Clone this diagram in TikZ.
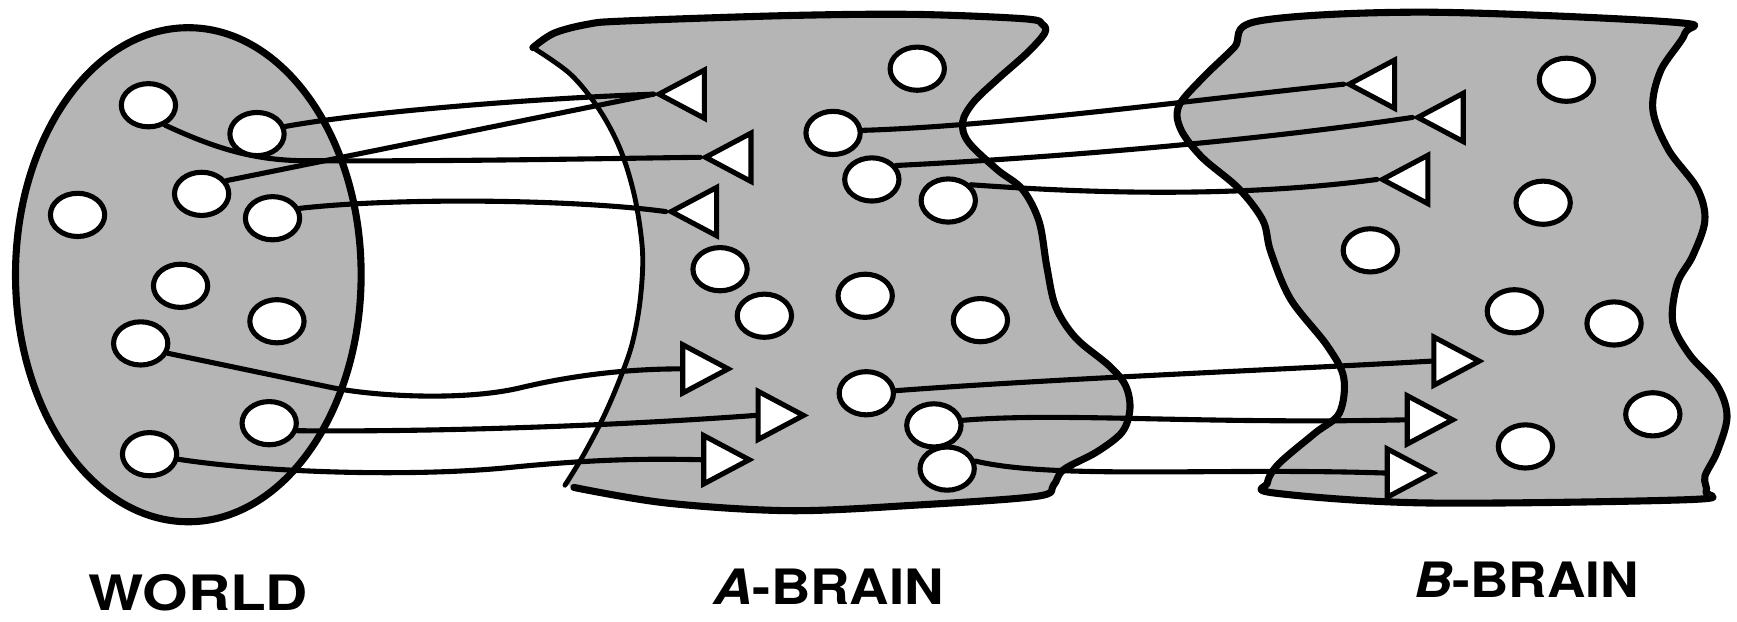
\documentclass[tikz,border=0pt]{standalone}
\usepackage{fontspec}
\usepackage{graphicx}
\setmainfont{TeX Gyre Heros}
\usetikzlibrary{shapes.geometric}
\definecolor{shadegray}{gray}{0.71}
\pgfdeclarelayer{regions}
\pgfdeclarelayer{wires}
\pgfsetlayers{regions,wires,main}
\tikzset{
  region/.style={fill=shadegray, draw=black, line width=3.2pt, line join=round},
  outline/.style={draw=black, line width=3.2pt, line join=round, line cap=round},
  arcline/.style={draw=black, line width=2.2pt, line cap=round},
  cell/.style={ellipse, draw=black, fill=white, line width=2.3pt, minimum width=24.5pt, minimum height=19.5pt, inner sep=0pt},
  trileft/.style={isosceles triangle, isosceles triangle apex angle=56, shape border rotate=180, draw=black, fill=white, line width=2.3pt, minimum size=20.5pt, inner sep=0pt, line join=miter},
  triright/.style={isosceles triangle, isosceles triangle apex angle=56, shape border rotate=0, draw=black, fill=white, line width=2.3pt, minimum size=20.5pt, inner sep=0pt, line join=miter},
  wire/.style={draw=black, line width=2.3pt, line cap=round},
  brainlabel/.style={font=\fontsize{22}{22}\selectfont\bfseries, anchor=base, inner sep=0pt}
}
\begin{document}
\begin{tikzpicture}[x=0.5pt, y=-0.5pt]
\useasboundingbox (0,0) rectangle (1568,561);

\begin{pgfonlayer}{regions}
% ---------- WORLD region
\draw[region] (170,248) ellipse [x radius=156, y radius=223];

% ---------- A-BRAIN region
\fill[shadegray] plot[smooth, tension=0.55] coordinates {(481,43) (500,30) (530,22) (563,19) (713,14) (826,13) (925,17) (941,22) (943,30) (927,48) (901,71) (879,92) (869,110) (874,128) (900,153) (923,171) (938,200) (945,241) (953,277) (971,305) (1001,330) (1016,348) (1020,369) (1013,390) (990,408) (960,424) (951,438) (936,448) (826,456) (713,461) (601,454) (518,440)}
  -- plot[smooth, tension=0.55] coordinates {(511,437) (526,412) (545,376) (560,341) (571,309) (578,270) (580,227) (573,178) (560,135) (541,99) (515,67) (481,43)} -- cycle;
\draw[outline] plot[smooth, tension=0.55] coordinates {(481,43) (500,30) (530,22) (563,19) (713,14) (826,13) (925,17) (941,22) (943,30) (927,48) (901,71) (879,92) (869,110) (874,128) (900,153) (923,171) (938,200) (945,241) (953,277) (971,305) (1001,330) (1016,348) (1020,369) (1013,390) (990,408) (960,424) (951,438) (936,448) (826,456) (713,461) (601,454) (518,440)};
\draw[arcline] plot[smooth, tension=0.55] coordinates {(510,438) (526,412) (545,376) (560,341) (571,309) (578,270) (580,227) (573,178) (560,135) (541,99) (515,67) (481,43)};

% ---------- B-BRAIN region
\draw[region] plot[smooth cycle, tension=0.55] coordinates {(1136,19) (1286,11) (1510,20) (1521,30) (1499,64) (1492,99) (1506,135) (1532,170) (1539,199) (1528,231) (1514,256) (1510,291) (1525,320) (1550,348) (1559,376) (1550,408) (1539,430) (1540,444) (1525,451) (1286,454) (1150,445) (1144,436) (1154,419) (1187,391) (1209,373) (1213,341) (1198,312) (1165,270) (1147,227) (1140,199) (1118,170) (1085,142) (1066,117) (1064,96) (1085,71) (1114,43)};
\end{pgfonlayer}

% ---------- WORLD cells
\node[cell] (w1) at (134,95) {};
\node[cell] (w2) at (232,121) {};
\node[cell] (w3) at (182,175) {};
\node[cell] (w4) at (70,194) {};
\node[cell] (w5) at (246,197) {};
\node[cell] (w6) at (163,258) {};
\node[cell] (w7) at (250,290) {};
\node[cell] (w8) at (127,310) {};
\node[cell] (w9) at (243,382) {};
\node[cell] (w10) at (135,410) {};

% ---------- A-BRAIN cells
\node[cell] (ac1) at (828,62) {};
\node[cell] (ac2) at (752,120) {};
\node[cell] (ac3) at (787,162) {};
\node[cell] (ac4) at (856,181) {};
\node[cell] (ac5) at (650,243) {};
\node[cell] (ac6) at (781,267) {};
\node[cell] (ac7) at (690,285) {};
\node[cell] (ac8) at (885,289) {};
\node[cell] (ac9) at (782,355) {};
\node[cell] (ac10) at (843,384) {};
\node[cell] (ac11) at (855,423) {};

% ---------- B-BRAIN cells
\node[cell] (bc1) at (1414,72) {};
\node[cell] (bc2) at (1393,183) {};
\node[cell] (bc3) at (1237,226) {};
\node[cell] (bc4) at (1367,281) {};
\node[cell] (bc5) at (1457,292) {};
\node[cell] (bc6) at (1492,374) {};
\node[cell] (bc7) at (1377,403) {};

% ---------- A-BRAIN triangles
\node[trileft, anchor=apex] (at1) at (590,85) {};
\node[trileft, anchor=apex] (at2) at (632,142) {};
\node[trileft, anchor=apex] (at3) at (601,191) {};
\node[triright, anchor=lower side] (at4) at (614,333) {};
\node[triright, anchor=lower side] (at5) at (682,375) {};
\node[triright, anchor=lower side] (at6) at (633,415) {};

% ---------- B-BRAIN triangles
\node[trileft, anchor=apex] (bt1) at (1213,76) {};
\node[trileft, anchor=apex] (bt2) at (1275,106) {};
\node[trileft, anchor=apex] (bt3) at (1243,162) {};
\node[triright, anchor=lower side] (bt4) at (1292,326) {};
\node[triright, anchor=lower side] (bt5) at (1268,379) {};
\node[triright, anchor=lower side] (bt6) at (1250,427) {};

\begin{pgfonlayer}{wires}
% ---------- connectors WORLD -> A-BRAIN
\draw[wire] (w2.15) .. controls (330,101) and (480,89) .. (at1.apex);
\draw[wire] (w3.28) -- (at1.apex);
\draw[wire] (w1.-50) .. controls (190,132) and (225,144) .. (270,145) .. controls (400,146) and (550,143) .. (at2.apex);
\draw[wire] (w5.20) .. controls (360,178) and (520,180) .. (at3.apex);
\draw[wire] (w8.-20) -- (300,350) .. controls (340,358) and (420,362) .. (470,350) .. controls (520,338) and (570,333) .. (at4.lower side);
\draw[wire] (w9.-15) .. controls (400,390) and (560,384) .. (at5.lower side);
\draw[wire] (w10.-10) .. controls (250,428) and (380,430) .. (460,422) .. controls (540,414) and (590,414) .. (at6.lower side);

% ---------- connectors A-BRAIN -> B-BRAIN
\draw[wire] (ac2.5) .. controls (900,114) and (1080,90) .. (bt1.apex);
\draw[wire] (ac3.30) .. controls (900,145) and (1100,132) .. (bt2.apex);
\draw[wire] (ac4.35) .. controls (950,172) and (1100,181) .. (bt3.apex);
\draw[wire] (ac9.5) .. controls (950,342) and (1150,334) .. (bt4.lower side);
\draw[wire] (ac10.10) .. controls (960,372) and (1080,383) .. (bt5.lower side);
\draw[wire] (ac11.15) .. controls (950,433) and (1100,422) .. (bt6.lower side);
\end{pgfonlayer}

% ---------- labels
\node[brainlabel] (lw) at (179,551) {\scalebox{1.2}[1]{WORLD}};
\node[brainlabel] (la) at (748,546) {\scalebox{1.12}[1]{\textit{A}-BRAIN}};
\node[brainlabel] (lb) at (1378,539) {\scalebox{1.09}[1]{\textit{B}-BRAIN}};
\end{tikzpicture}
\end{document}
